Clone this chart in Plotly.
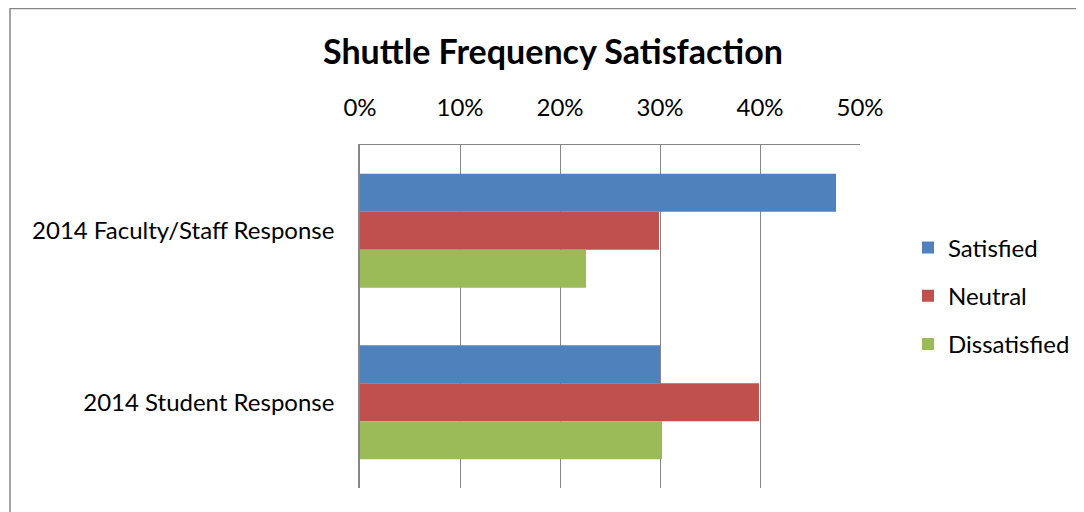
import plotly.graph_objects as go

categories = ["2014 Faculty/Staff Response", "2014 Student Response"]
series_names = ["Satisfied", "Neutral", "Dissatisfied"]
satisfied = [0.476, 0.300]
neutral = [0.299, 0.399]
dissatisfied = [0.226, 0.302]
colors = ["#4F81BD", "#C0504D", "#9BBB59"]
tick_vals = [0, 0.1, 0.2, 0.3, 0.4, 0.5]
tick_text = ["0%", "10%", "20%", "30%", "40%", "50%"]

# page body has an 8px default margin; work in screen coordinates and subtract it
OFF = 8
W, H = 1084 - OFF, 512 - OFF
PL, PR, PT, PB = 360, 860, 145, 488  # plot area in screen px
L, R, T, B = PL - OFF, W - (PR - OFF), PT - OFF, H - (PB - OFF)
FONT = "Lato"

fig = go.Figure()
for name, vals, col in zip(series_names, [satisfied, neutral, dissatisfied], colors):
    fig.add_trace(go.Bar(
        y=categories, x=vals, name=name, orientation="h",
        marker=dict(color=col, line=dict(width=0)),
        legendgroup=name,
    ))

def px_x(p):
    return (p - PL) / (PR - PL)

def px_y(p):
    return (PB - p) / (PB - PT)

fig.update_layout(
    width=W, height=H,
    margin=dict(l=L, r=R, t=T, b=B, autoexpand=False),
    paper_bgcolor="white", plot_bgcolor="white",
    barmode="group", bargap=0.335, bargroupgap=0,
    font=dict(family=FONT, size=24, color="#000000"),
    title=dict(text="<b>Shuttle Frequency Satisfaction</b>",
               x=(553 - OFF) / W, xanchor="center", y=1 - (52 - OFF) / H, yanchor="middle",
               font=dict(family=FONT, size=34, color="#000000")),
    xaxis=dict(side="top", range=[0, 0.5], tickvals=tick_vals, ticktext=tick_text,
               showgrid=True, gridcolor="#868686", gridwidth=1.3,
               showline=True, linecolor="#868686", linewidth=1.3,
               ticks="", ticklabelstandoff=18, zeroline=False, fixedrange=True),
    yaxis=dict(autorange="reversed", showgrid=False, showline=True,
               linecolor="#868686", linewidth=1.5, ticks="",
               ticklabelstandoff=19, fixedrange=True),
    legend=dict(x=px_x(908), xanchor="left", y=px_y(296), yanchor="middle",
                traceorder="grouped", tracegroupgap=14, itemwidth=30,
                font=dict(family=FONT, size=24, color="#000000"),
                bgcolor="rgba(0,0,0,0)"),
    shapes=[dict(type="rect", xref="paper", yref="paper",
                 x0=px_x(10), x1=px_x(1100), y0=px_y(8.5), y1=px_y(530),
                 line=dict(color="#868686", width=1.5), layer="below")],
)

fig.write_html("out.html")
